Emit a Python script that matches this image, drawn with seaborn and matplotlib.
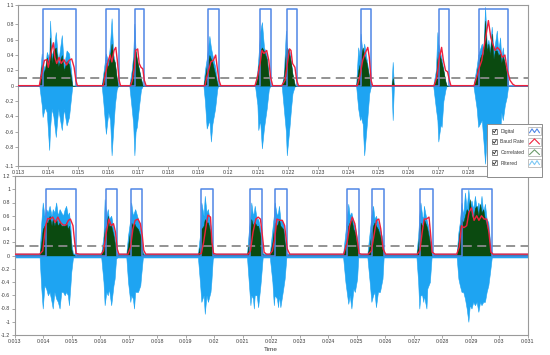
import numpy as np
import pandas as pd
import matplotlib
matplotlib.use("Agg")
import matplotlib.pyplot as plt
from matplotlib.patches import Rectangle
import seaborn as sns

# ---------------- data (time in ms) ----------------
top_rise = [113.83, 115.93, 116.88, 119.33, 121.06, 121.95, 124.41, 127.03, 128.36]
top_fall = [114.92, 116.35, 117.20, 119.68, 121.42, 122.30, 124.77, 127.36, 129.33]
top_threshold = 0.10

top_filt_t = [113.00,
              113.70, 113.78, 113.81, 113.89, 113.95, 114.03, 114.06, 114.11, 114.17, 114.25,
              114.33, 114.45, 114.52, 114.61, 114.69, 114.76, 114.80,
              115.78, 115.83, 115.92, 116.00, 116.06, 116.11, 116.17, 116.22, 116.28, 116.33,
              116.70, 116.78, 116.83, 116.87, 116.91, 116.95, 117.03, 117.09, 117.15,
              119.17, 119.22, 119.28, 119.37, 119.42, 119.47, 119.56, 119.63, 119.66,
              120.89, 120.97, 121.00, 121.06, 121.12, 121.19, 121.28, 121.35, 121.40,
              121.78, 121.85, 121.92, 121.95, 122.04, 122.09, 122.14, 122.22,
              124.26, 124.33, 124.39, 124.41, 124.48, 124.53, 124.61, 124.70, 124.76,
              125.44, 125.48, 125.52,
              126.83, 126.92, 126.97, 127.00, 127.08, 127.11, 127.17, 127.24, 127.28,
              128.17, 128.28, 128.33, 128.45, 128.50, 128.56, 128.62, 128.67, 128.72, 128.78,
              128.84, 128.89, 128.95, 129.00, 129.06, 129.10, 129.15, 129.22, 129.28, 129.33,
              130.00]
top_filt_hi = [0,
               0, 0.42, 0.30, 0.20, 0.44, 0.35, 0.85, 0.40, 0.45, 0.70,
               0.30, 0.66, 0.25, 0.46, 0.42, 0.20, 0,
               0, 0.15, 0.42, 0.30, 0.55, 0.88, 0.40, 0.30, 0.10, 0,
               0, 0.20, 0.40, 0.81, 0.45, 0.35, 0.20, 0.10, 0,
               0, 0.20, 0.35, 0.65, 0.50, 0.40, 0.25, 0.05, 0,
               0, 0.20, 0.35, 0.70, 0.83, 0.50, 0.40, 0.10, 0,
               0, 0.15, 0.72, 0.50, 0.45, 0.30, 0.15, 0,
               0, 0.50, 0.35, 0.68, 0.40, 0.55, 0.35, 0.10, 0,
               0, 0.31, 0,
               0, 0.20, 0.70, 0.55, 0.40, 0.35, 0.20, 0.05, 0,
               0, 0.25, 0.40, 0.55, 0.45, 1.03, 0.50, 0.60, 0.45, 0.77,
               0.45, 0.55, 0.72, 0.45, 0.63, 0.35, 0.50, 0.25, 0.20, 0,
               0]
top_filt_lo = [0,
               0, -0.25, -0.41, -0.28, -0.35, -0.84, -0.55, -0.30, -0.40, -0.67,
               -0.30, -0.58, -0.30, -0.52, -0.41, -0.15, 0,
               0, -0.20, -0.63, -0.35, -0.45, -0.91, -0.54, -0.25, -0.05, 0,
               0, -0.30, -0.50, -0.91, -0.60, -0.54, -0.25, -0.05, 0,
               0, -0.20, -0.56, -0.45, -0.73, -0.50, -0.30, -0.05, 0,
               0, -0.25, -0.58, -0.45, -0.82, -0.55, -0.30, -0.05, 0,
               0, -0.30, -0.60, -0.91, -0.54, -0.30, -0.10, 0,
               0, -0.30, -0.45, -0.40, -0.50, -0.91, -0.54, -0.10, 0,
               0, -0.45, 0,
               0, -0.30, -0.45, -0.73, -0.50, -0.54, -0.20, -0.05, 0,
               0, -0.30, -0.54, -0.45, -0.70, -1.02, -0.60, -0.80, -0.55, -0.93,
               -0.50, -0.70, -0.80, -0.50, -0.63, -0.35, -0.45, -0.25, -0.15, 0,
               0]
top_corr = [0,
            0, 0.28, 0.15, 0.22, 0.37, 0.25, 0.63, 0.30, 0.46, 0.50,
            0.25, 0.40, 0.20, 0.32, 0.28, 0.10, 0,
            0, 0.08, 0.30, 0.25, 0.40, 0.55, 0.35, 0.30, 0.10, 0,
            0, 0.10, 0.30, 0.50, 0.45, 0.35, 0.20, 0.08, 0,
            0, 0.10, 0.25, 0.40, 0.35, 0.30, 0.15, 0.03, 0,
            0, 0.10, 0.25, 0.45, 0.50, 0.45, 0.35, 0.10, 0,
            0, 0.10, 0.45, 0.50, 0.40, 0.30, 0.15, 0,
            0, 0.20, 0.30, 0.35, 0.50, 0.40, 0.30, 0.10, 0,
            0, 0.10, 0,
            0, 0.10, 0.35, 0.45, 0.35, 0.30, 0.20, 0.05, 0,
            0, 0.15, 0.30, 0.42, 0.40, 0.85, 0.45, 0.55, 0.40, 0.68,
            0.35, 0.46, 0.46, 0.40, 0.42, 0.30, 0.38, 0.30, 0.15, 0,
            0]

top_baud_t = [113.00, 113.70, 113.78, 113.87, 113.95, 114.00, 114.08, 114.17, 114.22, 114.28,
              114.36, 114.43, 114.52, 114.61, 114.69, 114.78, 114.86, 114.92, 114.97,
              115.83, 115.92, 116.00, 116.06, 116.12, 116.19, 116.25, 116.30, 116.36, 116.41,
              116.74, 116.80, 116.87, 116.91, 116.98, 117.03, 117.09, 117.15, 117.20, 117.26,
              119.22, 119.28, 119.37, 119.42, 119.50, 119.58, 119.63, 119.69, 119.75,
              120.89, 120.97, 121.06, 121.12, 121.19, 121.28, 121.35, 121.41, 121.48,
              121.78, 121.89, 121.97, 122.04, 122.09, 122.14, 122.22, 122.28, 122.34,
              124.30, 124.39, 124.48, 124.56, 124.65, 124.70, 124.76, 124.81,
              126.86, 126.95, 127.03, 127.11, 127.17, 127.24, 127.31, 127.37, 127.42,
              128.19, 128.28, 128.37, 128.45, 128.50, 128.58, 128.67, 128.75, 128.81, 128.89,
              128.97, 129.06, 129.13, 129.22, 129.30, 129.39, 129.48, 129.56, 130.00]
top_baud = [0, 0, 0.16, 0.33, 0.34, 0.24, 0.42, 0.56, 0.37, 0.29,
            0.37, 0.29, 0.34, 0.27, 0.33, 0.35, 0.24, 0.07, 0,
            0, 0.18, 0.33, 0.40, 0.31, 0.46, 0.50, 0.33, 0.07, 0,
            0, 0.07, 0.24, 0.46, 0.48, 0.29, 0.24, 0.22, 0.07, 0,
            0, 0.11, 0.24, 0.31, 0.33, 0.40, 0.24, 0.07, 0,
            0, 0.11, 0.29, 0.46, 0.42, 0.46, 0.33, 0.11, 0,
            0, 0.07, 0.29, 0.48, 0.46, 0.29, 0.24, 0.07, 0,
            0, 0.13, 0.33, 0.42, 0.50, 0.37, 0.07, 0,
            0, 0.11, 0.35, 0.50, 0.33, 0.20, 0.18, 0.07, 0,
            0, 0.11, 0.24, 0.33, 0.46, 0.63, 0.85, 0.63, 0.55, 0.46,
            0.50, 0.46, 0.37, 0.40, 0.20, 0.07, 0.02, 0, 0]

bot_rise = [14.11, 16.19, 17.07, 19.55, 21.27, 22.12, 24.66, 25.53, 27.22, 28.67]
bot_fall = [15.16, 16.59, 17.47, 19.97, 21.67, 22.56, 25.08, 25.96, 27.66, 29.73]
bot_threshold = 0.14

bot_filt_t = [13.00,
              13.88, 13.94, 13.99, 14.05, 14.11, 14.17, 14.23, 14.30, 14.34, 14.40, 14.46,
              14.52, 14.58, 14.64, 14.70, 14.76, 14.81, 14.87, 14.91, 14.96, 14.99, 15.05,
              16.04, 16.12, 16.16, 16.22, 16.27, 16.31, 16.39, 16.47, 16.51, 16.56, 16.60,
              16.92, 16.98, 17.06, 17.09, 17.15, 17.19, 17.23, 17.33, 17.41, 17.44, 17.50,
              19.43, 19.50, 19.55, 19.63, 19.67, 19.73, 19.78, 19.87, 19.90, 19.95, 19.98,
              21.15, 21.22, 21.27, 21.30, 21.36, 21.39, 21.42, 21.49, 21.54, 21.62, 21.64, 21.70,
              21.95, 22.04, 22.09, 22.12, 22.20, 22.24, 22.27, 22.32, 22.42, 22.47, 22.53,
              24.52, 24.60, 24.70, 24.75, 24.81, 24.88, 24.93, 25.01, 25.05,
              25.37, 25.45, 25.51, 25.57, 25.62, 25.67, 25.74, 25.81, 25.90, 25.94,
              27.09, 27.15, 27.19, 27.23, 27.29, 27.33, 27.35, 27.44, 27.47, 27.56, 27.62,
              28.50, 28.56, 28.61, 28.67, 28.73, 28.79, 28.85, 28.91, 28.96, 29.02, 29.08,
              29.14, 29.20, 29.26, 29.32, 29.37, 29.43, 29.49, 29.55, 29.61, 29.67, 29.73,
              31.00]
bot_filt_hi = [0.03,
               0.03, 0.50, 0.80, 0.60, 0.70, 0.65, 0.75, 0.60, 0.70, 0.65, 0.80,
               0.60, 0.70, 0.65, 0.60, 0.70, 0.75, 0.60, 0.65, 0.45, 0.20, 0.03,
               0.03, 0.30, 0.85, 0.60, 0.70, 0.55, 0.60, 0.40, 0.30, 0.05, 0.03,
               0.03, 0.30, 0.55, 0.80, 0.60, 0.65, 0.70, 0.55, 0.40, 0.30, 0.03,
               0.03, 0.30, 0.80, 0.60, 0.90, 0.65, 0.70, 0.45, 0.30, 0.05, 0.03,
               0.03, 0.40, 0.60, 0.80, 0.60, 0.65, 0.75, 0.55, 0.55, 0.40, 0.30, 0.03,
               0.03, 0.40, 0.60, 0.80, 0.60, 0.65, 0.75, 0.55, 0.50, 0.30, 0.03,
               0.03, 0.35, 0.78, 0.60, 0.65, 0.50, 0.45, 0.25, 0.03,
               0.03, 0.35, 0.60, 0.75, 0.55, 0.60, 0.50, 0.40, 0.25, 0.03,
               0.03, 0.30, 0.60, 0.80, 0.60, 0.55, 0.75, 0.55, 0.50, 0.30, 0.03,
               0.03, 0.35, 0.50, 0.80, 0.60, 0.95, 0.70, 1.00, 0.75, 0.83, 0.70,
               0.90, 0.70, 0.80, 0.70, 0.90, 0.65, 0.78, 0.55, 0.50, 0.20, 0.03,
               0.03]
bot_filt_lo = [-0.03,
               -0.03, -0.50, -0.80, -0.45, -0.50, -0.60, -0.55, -0.70, -0.80, -0.55, -0.65,
               -0.70, -0.80, -0.55, -0.55, -0.60, -0.55, -0.60, -0.75, -0.45, -0.25, -0.03,
               -0.03, -0.40, -0.75, -0.55, -0.60, -0.50, -0.75, -0.45, -0.35, -0.05, -0.03,
               -0.03, -0.40, -0.70, -0.60, -0.65, -0.80, -0.55, -0.55, -0.45, -0.30, -0.03,
               -0.03, -0.40, -0.70, -0.60, -0.88, -0.60, -0.70, -0.55, -0.40, -0.05, -0.03,
               -0.03, -0.45, -0.75, -0.60, -0.65, -0.80, -0.60, -0.60, -0.78, -0.45, -0.35, -0.03,
               -0.03, -0.40, -0.75, -0.60, -0.65, -0.78, -0.60, -0.78, -0.50, -0.35, -0.03,
               -0.03, -0.40, -0.73, -0.60, -0.80, -0.50, -0.55, -0.35, -0.03,
               -0.03, -0.40, -0.70, -0.60, -0.55, -0.78, -0.55, -0.55, -0.35, -0.03,
               -0.03, -0.40, -0.80, -0.60, -0.60, -0.70, -0.60, -0.80, -0.50, -0.40, -0.03,
               -0.03, -0.35, -0.45, -0.55, -0.55, -0.65, -0.80, -1.00, -0.75, -0.80, -0.70,
               -0.75, -0.70, -0.85, -0.70, -0.75, -0.70, -0.70, -0.55, -0.45, -0.25, -0.03,
               -0.03]
bot_corr = [0.01,
            0.01, 0.20, 0.40, 0.45, 0.50, 0.50, 0.60, 0.45, 0.55, 0.45, 0.55,
            0.45, 0.50, 0.45, 0.45, 0.45, 0.50, 0.40, 0.45, 0.30, 0.10, 0.01,
            0.01, 0.15, 0.40, 0.45, 0.60, 0.45, 0.45, 0.30, 0.20, 0.02, 0.01,
            0.01, 0.15, 0.40, 0.50, 0.45, 0.50, 0.45, 0.40, 0.30, 0.20, 0.01,
            0.01, 0.15, 0.40, 0.45, 0.55, 0.50, 0.50, 0.35, 0.20, 0.02, 0.01,
            0.01, 0.20, 0.40, 0.55, 0.45, 0.50, 0.50, 0.45, 0.45, 0.30, 0.20, 0.01,
            0.01, 0.20, 0.40, 0.50, 0.45, 0.50, 0.55, 0.45, 0.40, 0.20, 0.01,
            0.01, 0.15, 0.45, 0.50, 0.55, 0.40, 0.35, 0.15, 0.01,
            0.01, 0.15, 0.35, 0.45, 0.50, 0.45, 0.40, 0.30, 0.15, 0.01,
            0.01, 0.15, 0.40, 0.50, 0.45, 0.45, 0.55, 0.45, 0.40, 0.20, 0.01,
            0.01, 0.20, 0.40, 0.55, 0.50, 0.60, 0.70, 0.65, 0.85, 0.60, 0.55,
            0.72, 0.75, 0.60, 0.78, 0.65, 0.70, 0.55, 0.45, 0.35, 0.10, 0.01,
            0.01]

bot_baud_t = [13.00, 13.88, 13.99, 14.09, 14.17, 14.25, 14.34, 14.43, 14.52, 14.61, 14.70,
              14.81, 14.89, 14.96, 15.05, 15.11, 15.16, 15.28,
              16.04, 16.12, 16.22, 16.31, 16.39, 16.47, 16.54, 16.60, 16.66,
              16.98, 17.07, 17.15, 17.23, 17.33, 17.41, 17.48, 17.53, 17.60,
              19.43, 19.55, 19.63, 19.70, 19.78, 19.87, 19.92, 19.98, 20.08,
              21.19, 21.27, 21.36, 21.46, 21.54, 21.62, 21.69, 21.75, 21.83,
              21.95, 22.04, 22.12, 22.20, 22.30, 22.39, 22.47, 22.56, 22.65,
              24.54, 24.66, 24.75, 24.84, 24.93, 25.01, 25.08, 25.16,
              25.40, 25.51, 25.60, 25.69, 25.77, 25.84, 25.92, 26.01,
              27.12, 27.21, 27.29, 27.36, 27.44, 27.53, 27.58, 27.64, 27.74,
              28.50, 28.59, 28.67, 28.75, 28.85, 28.93, 29.02, 29.11, 29.20, 29.28,
              29.37, 29.46, 29.55, 29.63, 29.70, 29.78, 31.00]
bot_baud = [0.02, 0.02, 0.07, 0.45, 0.56, 0.55, 0.58, 0.50, 0.58, 0.50, 0.46,
            0.46, 0.53, 0.55, 0.45, 0.20, 0.03, 0.02,
            0.02, 0.07, 0.35, 0.55, 0.45, 0.48, 0.35, 0.10, 0.02,
            0.02, 0.13, 0.40, 0.53, 0.55, 0.48, 0.30, 0.08, 0.02,
            0.02, 0.03, 0.20, 0.40, 0.61, 0.58, 0.20, 0.03, 0.02,
            0.02, 0.07, 0.35, 0.55, 0.58, 0.55, 0.30, 0.05, 0.02,
            0.02, 0.07, 0.25, 0.55, 0.53, 0.53, 0.45, 0.10, 0.02,
            0.02, 0.20, 0.45, 0.58, 0.48, 0.25, 0.03, 0.02,
            0.02, 0.07, 0.30, 0.53, 0.55, 0.40, 0.10, 0.02,
            0.02, 0.07, 0.35, 0.55, 0.55, 0.58, 0.35, 0.05, 0.02,
            0.02, 0.13, 0.45, 0.42, 0.45, 0.65, 0.72, 0.53, 0.60, 0.53,
            0.60, 0.55, 0.55, 0.35, 0.05, 0.02, 0.02]

top_xticks = [113, 114, 115, 116, 117, 118, 119, 120, 121, 122, 123, 124, 125, 126, 127, 128, 129]
top_yticks = [-1.05, -0.8, -0.6, -0.4, -0.2, 0, 0.2, 0.4, 0.6, 0.8, 1.05]
top_ylabels = ["-1.1", "-0.8", "-0.6", "-0.4", "-0.2", "0", "0.2", "0.4", "0.6", "0.8", "1.1"]
bot_xticks = [13, 14, 15, 16, 17, 18, 19, 20, 21, 22, 23, 24, 25, 26, 27, 28, 29, 30, 31]
bot_yticks = [-1.2, -1.0, -0.8, -0.6, -0.4, -0.2, 0, 0.2, 0.4, 0.6, 0.8, 1.0, 1.2]

series_names = ["Digital", "Baud Rate", "Correlated", "Filtered"]

# ---------------- style ----------------
sns.set_theme(style="white")
plt.rcParams["font.family"] = ["Liberation Sans", "DejaVu Sans"]
plt.rcParams["axes.unicode_minus"] = False

C_DIG = "#4f86e6"
C_BAUD = "#f0203c"
C_CORR = "#0b4a10"
C_FILT = "#1ea4f2"
C_THR = "#8a8a8a"
C_SPINE = "#9a9a9a"
C_TXT = "#3a3a3a"

fig = plt.figure(figsize=(5.5, 3.55), dpi=100)
ax_top = fig.add_axes([18.3 / 550, 1 - 166 / 355, 510 / 550, 160.7 / 355])
ax_bot = fig.add_axes([14.5 / 550, 1 - 335 / 355, 513.5 / 550, 159 / 355])


def digital_frame(rise, fall, t0, t1):
    xs, ys = [t0], [0]
    for r, f in zip(rise, fall):
        xs += [r, r, f, f]
        ys += [0, 1, 1, 0]
    xs.append(t1)
    ys.append(0)
    return pd.DataFrame({"t": xs, "v": ys})


def draw_panel(ax, ft, fhi, flo, fcorr, bt, bv, rise, fall, thr, xlim, ylim):
    ax.fill_between(ft, flo, fhi, color=C_FILT, linewidth=0.4, edgecolor=C_FILT, zorder=1)
    ax.fill_between(ft, 0, fcorr, color=C_CORR, linewidth=0.3, edgecolor=C_CORR, zorder=2)
    ax.axhline(thr, color=C_THR, lw=1.3, ls=(0, (5, 3)), zorder=3)
    dig = digital_frame(rise, fall, xlim[0], xlim[1])
    sns.lineplot(data=dig, x="t", y="v", ax=ax, color=C_DIG, lw=1.1,
                 estimator=None, sort=False, zorder=4)
    baud = pd.DataFrame({"t": bt, "v": bv})
    sns.lineplot(data=baud, x="t", y="v", ax=ax, color=C_BAUD, lw=1.0,
                 estimator=None, sort=False, zorder=5)
    ax.set_xlim(*xlim)
    ax.set_ylim(*ylim)
    ax.set_xlabel("")
    ax.set_ylabel("")
    for s in ax.spines.values():
        s.set_color(C_SPINE)
        s.set_linewidth(0.8)
    ax.tick_params(axis="both", which="both", direction="out", length=2, width=0.6,
                   color=C_SPINE, labelsize=3.8, labelcolor=C_TXT, pad=1.2,
                   bottom=True, left=True)


draw_panel(ax_top, top_filt_t, top_filt_hi, top_filt_lo, top_corr,
           top_baud_t, top_baud, top_rise, top_fall, top_threshold, (113, 130), (-1.05, 1.05))
ax_top.set_xticks(top_xticks)
ax_top.set_xticklabels([f"{v / 1000:g}" for v in top_xticks])
ax_top.set_yticks(top_yticks)
ax_top.set_yticklabels(top_ylabels)

draw_panel(ax_bot, bot_filt_t, bot_filt_hi, bot_filt_lo, bot_corr,
           bot_baud_t, bot_baud, bot_rise, bot_fall, bot_threshold, (13, 31), (-1.2, 1.2))
ax_bot.set_xticks(bot_xticks)
ax_bot.set_xticklabels([f"{v / 1000:g}" for v in bot_xticks])
ax_bot.set_yticks(bot_yticks)
ax_bot.set_yticklabels([f"{v:g}" for v in bot_yticks])
ax_bot.set_xlabel("Time", fontsize=4.6, color=C_TXT, labelpad=2)

# ---------------- legend (LabVIEW-style plot legend) ----------------
ov = fig.add_axes([0, 0, 1, 1], zorder=20)
ov.set_xlim(0, 550)
ov.set_ylim(355, 0)
ov.axis("off")
ov.patch.set_alpha(0)
ov.add_patch(Rectangle((487, 123.5), 55, 53, facecolor="white", edgecolor="#8c8c8c", lw=0.7))
row_y = [131, 141.6, 152.2, 162.8]
icon_col = [C_DIG, C_BAUD, "#6a9a6a", "#7cc8f5"]
icon_shape = [
    ([0, 0.25, 0.5, 0.75, 1.0], [0.3, -0.35, 0.25, -0.35, 0.3]),
    ([0, 0.5, 1.0], [0.4, -0.45, 0.4]),
    ([0, 0.5, 1.0], [0.4, -0.4, 0.4]),
    ([0, 0.25, 0.5, 0.75, 1.0], [0.35, -0.3, 0.3, -0.35, 0.3]),
]
for name, y, col, (sx, sy) in zip(series_names, row_y, icon_col, icon_shape):
    ov.add_patch(Rectangle((492, y - 2.5), 5, 5, facecolor="white", edgecolor="#555555", lw=0.5))
    ov.plot([492.9, 494.3, 496.3], [y, y + 1.6, y - 1.7], color="#222222", lw=0.6)
    ov.text(500.5, y + 0.3, name, fontsize=3.6, color=C_TXT, va="center", ha="left")
    ov.add_patch(Rectangle((528, y - 4), 13, 8, facecolor="white", edgecolor="#a8a8a8", lw=0.5))
    ov.plot([529.5 + 10 * a for a in sx], [y + 6 * b for b in sy], color=col, lw=0.8)

fig.savefig("out.png", dpi=100, facecolor="white")
